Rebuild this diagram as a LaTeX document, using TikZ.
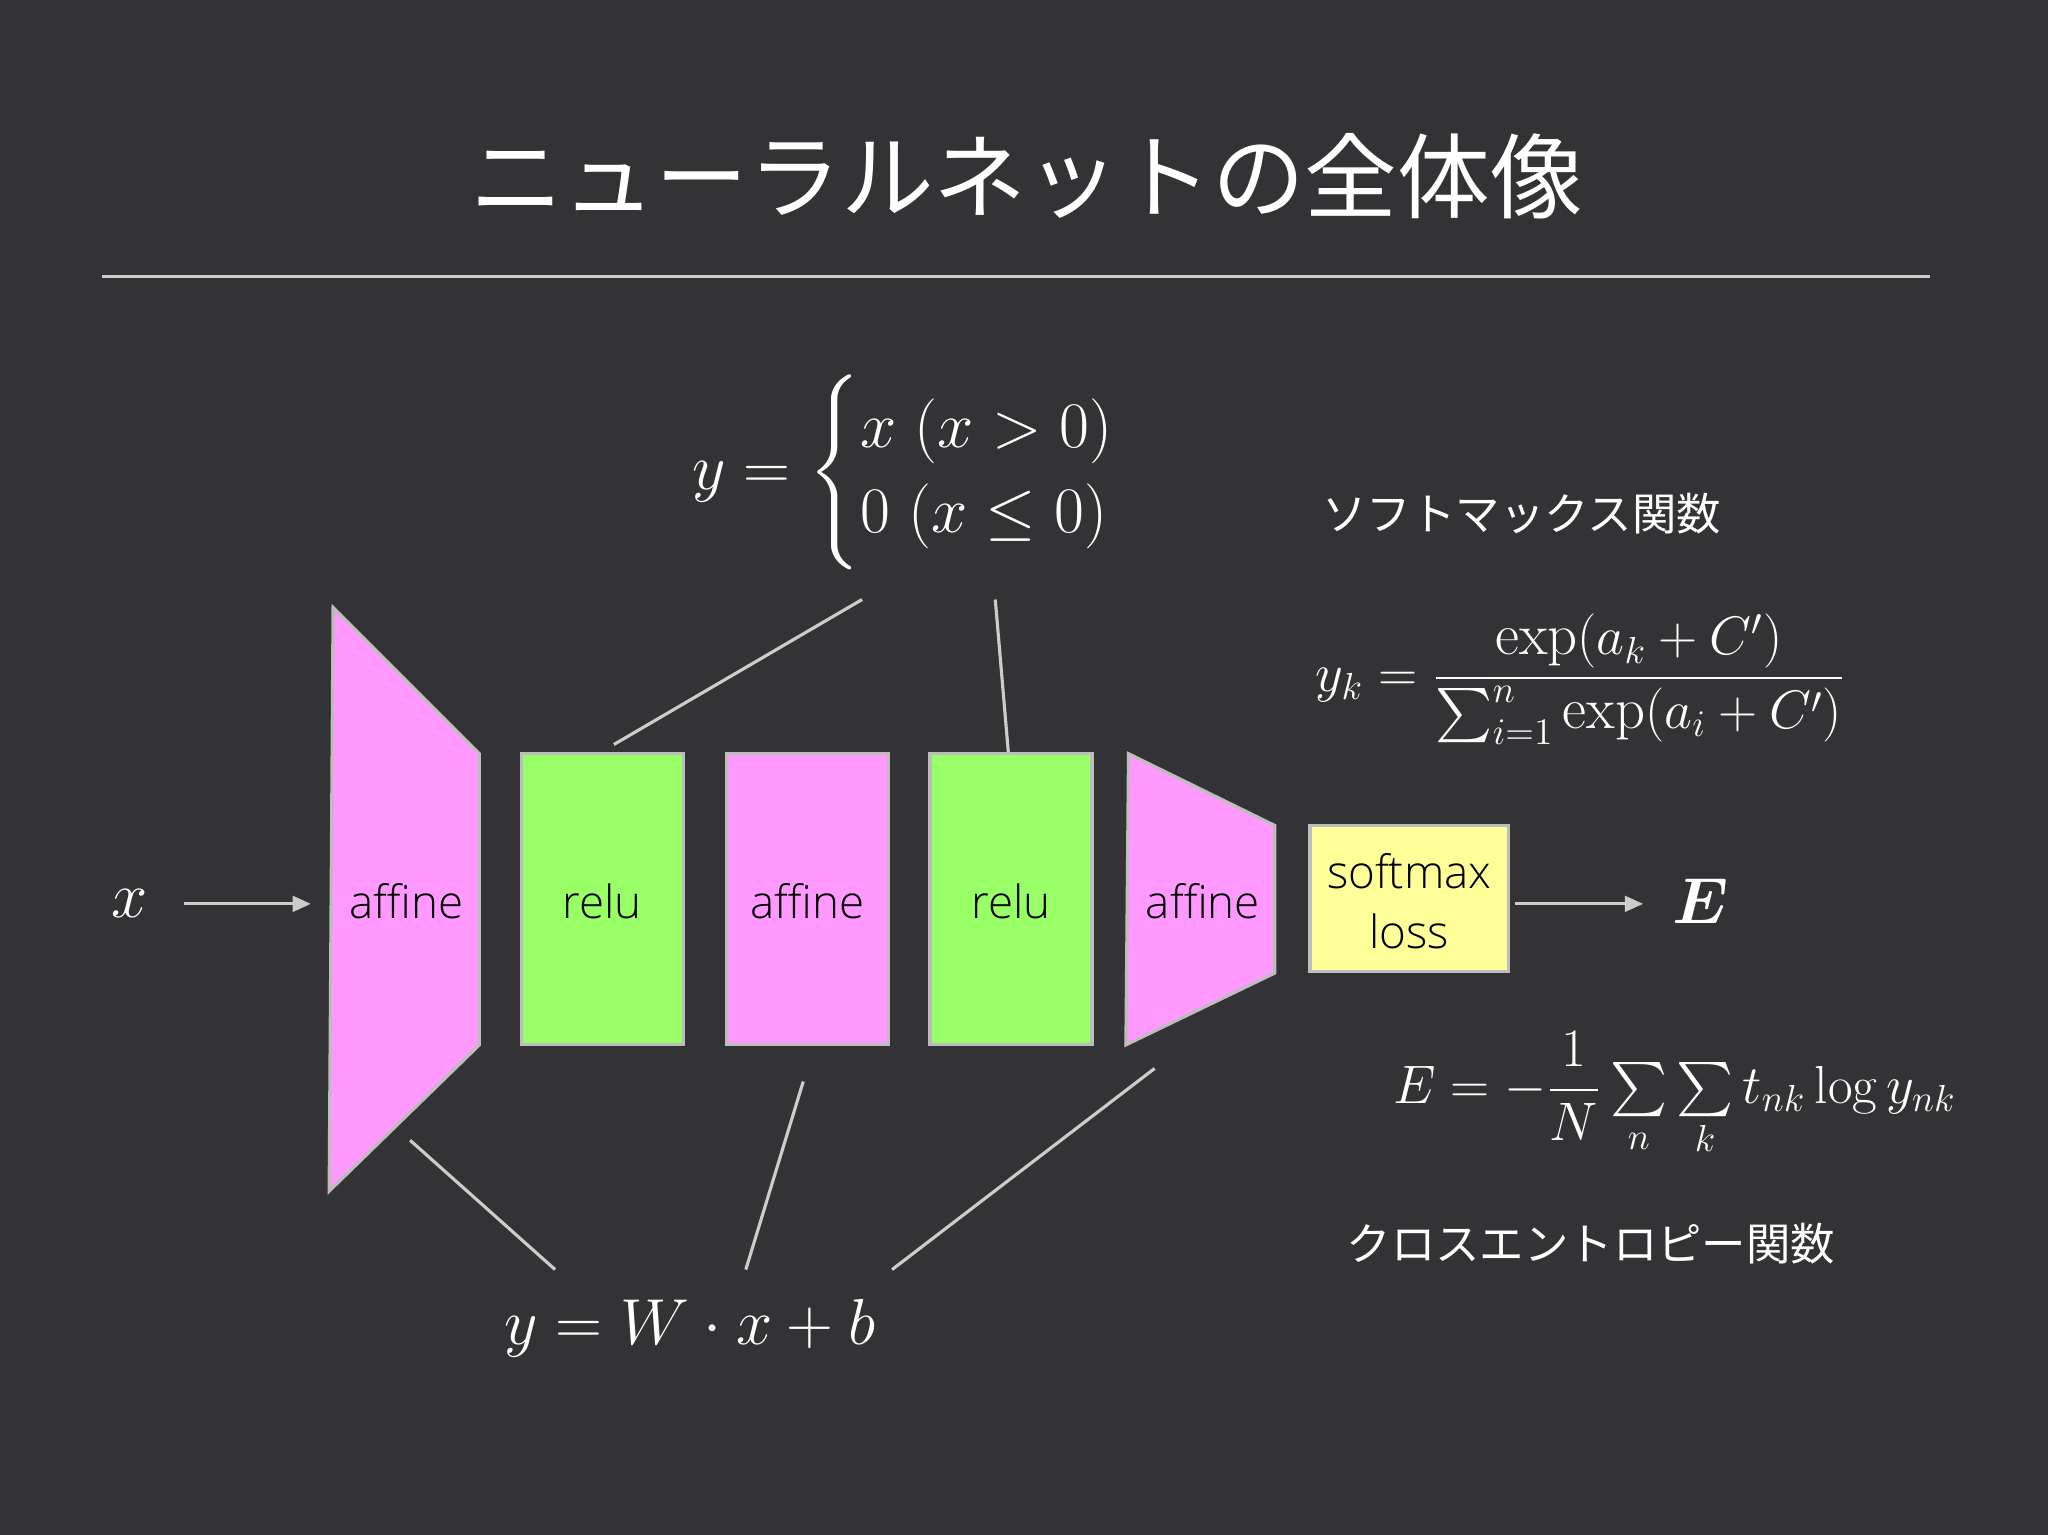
\documentclass[tikz,border=0pt]{standalone}
\usepackage{amsmath}
\usepackage{fontspec}
\newfontfamily\jp{Noto Sans CJK JP}
\newfontfamily\lab{Open Sans Light}
\usetikzlibrary{arrows.meta}
\definecolor{bg}{HTML}{333335}
\definecolor{pk}{HTML}{FF99FF}
\definecolor{gr}{HTML}{99FF66}
\definecolor{yl}{HTML}{FFFF99}
\definecolor{ln}{HTML}{CCCCCC}
\tikzset{blk/.style={draw=ln!80!gray,line width=1.2pt},
 lab/.style={font=\lab\fontsize{17.5}{20}\selectfont,text=black},
 conn/.style={draw=ln,line width=1.2pt},
 arr/.style={draw=ln,line width=1.2pt,-{Triangle[length=7pt,width=6pt]}},
 mth/.style={text=white,font=\fontsize{23}{27}\selectfont},
 jpl/.style={text=white,font=\jp\fontsize{17}{21}\selectfont}}
\begin{document}
\begin{tikzpicture}[x=0.5pt,y=-0.5pt]
\fill[bg] (0,0) rectangle (1568,1175);
\useasboundingbox (0,0) rectangle (1568,1175);
\node[text=white,font=\jp\fontsize{35.5}{40}\selectfont] (title) at (786,135) {ニューラルネットの全体像};
\draw[ln,line width=1.2pt] (78,212) coordinate (l1) -- (1478,212) coordinate (l2);
\filldraw[blk,fill=pk] (255,465) -- (367,577) -- (367,800) -- (252,912) -- cycle;
\node[lab] (a1) at (311,690) {affine};
\filldraw[blk,fill=gr] (399,577) rectangle (523,800);
\node[lab] (r1) at (461,690) {relu};
\filldraw[blk,fill=pk] (556,577) rectangle (680,800);
\node[lab] (a2) at (618,690) {affine};
\filldraw[blk,fill=gr] (712,577) rectangle (836,800);
\node[lab] (r2) at (774,690) {relu};
\filldraw[blk,fill=pk] (864,577) -- (976,632) -- (976,745) -- (862,800) -- cycle;
\node[lab] (a3) at (921,690) {affine};
\filldraw[blk,fill=yl] (1003,632) rectangle (1155,744);
\node[lab,align=center] (sm) at (1079,690) {softmax\\[3pt]loss};
\node[mth] (x) at (99,692) {$x$};
\node[mth] (E) at (1302,690) {$\boldsymbol{E}$};
\coordinate (xs) at (141,692); \coordinate (xe) at (238,692);
\coordinate (es) at (1160,692); \coordinate (ee) at (1258,692);
\draw[arr] (xs) -- (xe);
\draw[arr] (es) -- (ee);
\node[mth] (relu) at (715,362) {$y=\begin{cases}x\ (x>0)\\ 0\ (x\le 0)\end{cases}$};
\node[jpl] (smt) at (1165,393) {ソフトマックス関数};
\node[mth,font=\fontsize{22.5}{26}\selectfont] (smf) at (1210,520) {$y_k=\dfrac{\exp(a_k+C')}{\sum_{i=1}^{n}\exp(a_i+C')}$};
\node[mth,font=\fontsize{20.5}{24}\selectfont] (cef) at (1282,838) {$E=-\dfrac{1}{N}\sum\limits_n\sum\limits_k t_{nk}\log y_{nk}$};
\node[jpl] (cet) at (1218,952) {クロスエントロピー関数};
\node[mth,font=\fontsize{31}{35}\selectfont] (aff) at (528,1017) {$y=W\cdot x+b$};
\coordinate (p1) at (470,570); \coordinate (q1) at (660,459);
\coordinate (p2) at (772,576); \coordinate (q2) at (762,459);
\coordinate (p3) at (314,873); \coordinate (q3) at (425,972);
\coordinate (p4) at (615,828); \coordinate (q4) at (571,972);
\coordinate (p5) at (884,818); \coordinate (q5) at (683,972);
\draw[conn] (p1)--(q1); \draw[conn] (p2)--(q2); \draw[conn] (p3)--(q3);
\draw[conn] (p4)--(q4); \draw[conn] (p5)--(q5);
\end{tikzpicture}
\end{document}
